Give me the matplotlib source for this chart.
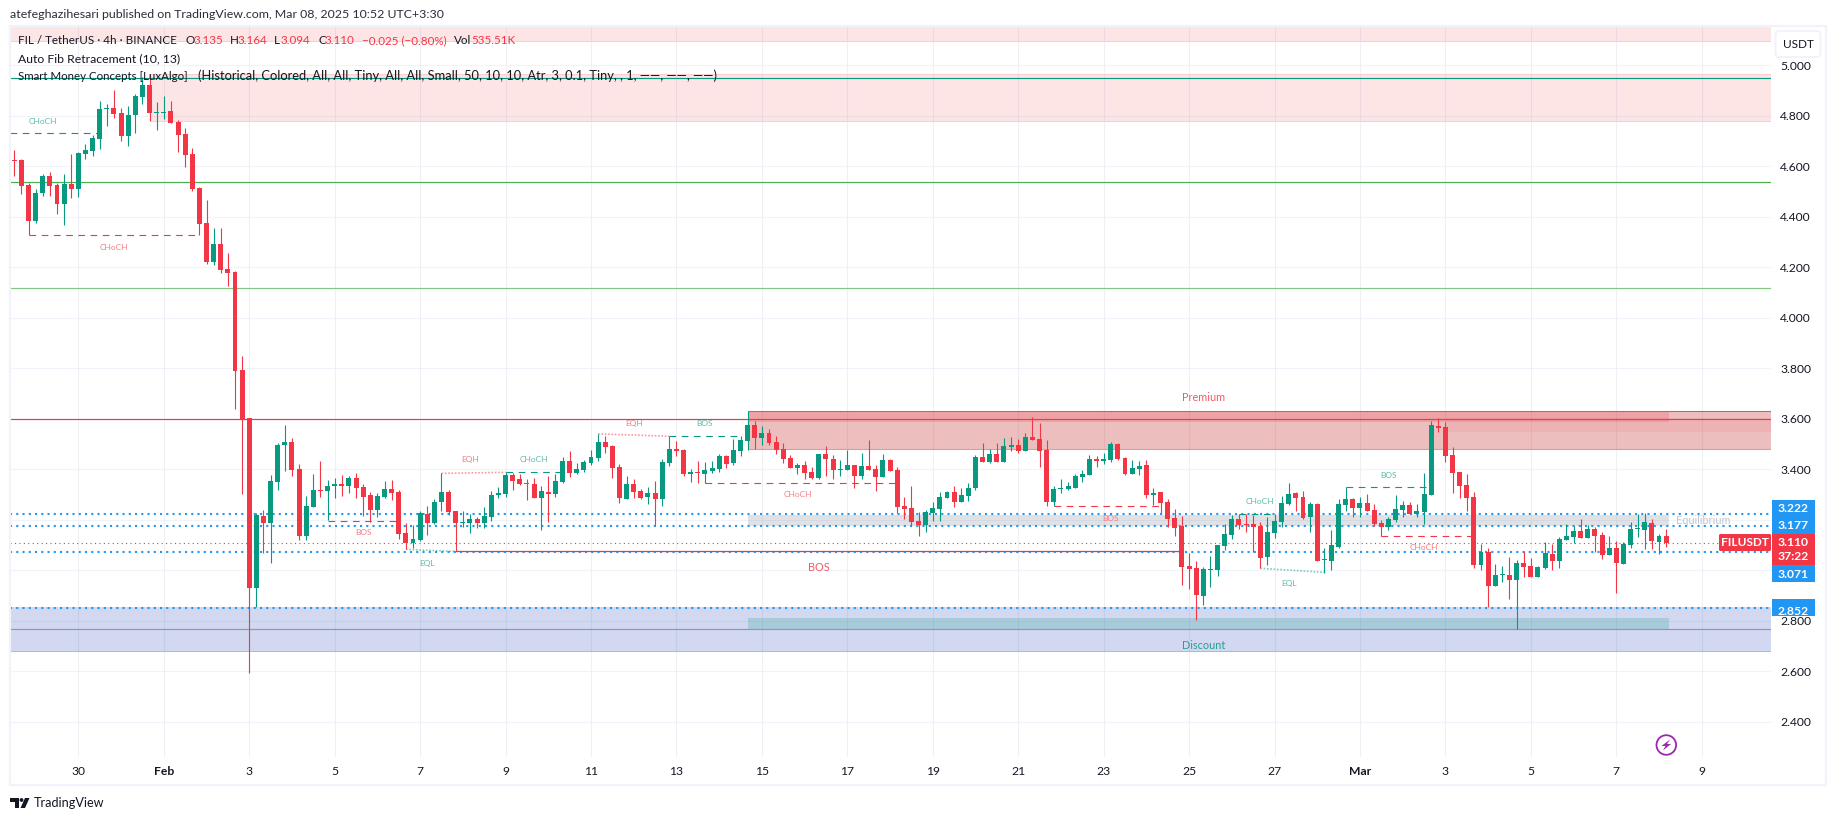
import matplotlib
matplotlib.use("Agg")
import matplotlib.pyplot as plt
from matplotlib.patches import Rectangle, FancyBboxPatch, Circle, Polygon

plt.rcParams['font.family'] = ['Lato', 'DejaVu Sans']

opens = [4.624,4.624,4.524,4.384,4.495,4.561,4.525,4.452,4.529,4.510,4.648,4.660,4.708,4.826,4.830,4.811,4.719,4.803,4.874,4.921,
4.811,4.811,4.818,4.775,4.727,4.648,4.514,4.375,4.221,4.292,4.193,4.181,3.793,3.605,2.931,3.217,3.187,3.349,3.496,3.508,
3.401,3.135,3.250,3.318,3.314,3.333,3.341,3.333,3.365,3.329,3.298,3.238,3.290,3.322,3.310,3.147,3.108,3.120,3.223,3.187,
3.270,3.310,3.234,3.187,3.187,3.203,3.187,3.211,3.298,3.302,3.377,3.361,3.345,3.341,3.286,3.310,3.302,3.349,3.432,3.385,
3.397,3.425,3.445,3.508,3.492,3.409,3.282,3.342,3.314,3.290,3.306,3.282,3.425,3.480,3.476,3.381,3.389,3.381,3.393,3.401,
3.453,3.425,3.472,3.512,3.575,3.524,3.544,3.508,3.480,3.445,3.405,3.417,3.389,3.366,3.461,3.441,3.397,3.397,3.417,3.373,
3.413,3.401,3.369,3.437,3.397,3.255,3.247,3.195,3.179,3.227,3.243,3.286,3.310,3.270,3.294,3.326,3.449,3.429,3.461,3.429,
3.488,3.496,3.473,3.528,3.520,3.477,3.271,3.322,3.322,3.326,3.370,3.378,3.441,3.433,3.437,3.500,3.445,3.382,3.401,3.417,
3.298,3.310,3.271,3.207,3.176,3.017,3.009,2.898,3.001,3.001,3.096,3.140,3.203,3.184,3.184,3.176,3.053,3.148,3.191,3.263,
3.306,3.290,3.211,3.263,3.041,3.037,3.092,3.259,3.283,3.247,3.267,3.239,3.187,3.172,3.199,3.239,3.259,3.223,3.231,3.298,
3.571,3.567,3.457,3.389,3.338,3.290,3.021,3.073,2.938,2.982,2.982,2.962,3.029,3.017,2.974,3.009,3.065,3.037,3.120,3.132,
3.156,3.128,3.164,3.140,3.061,3.088,3.025,3.100,3.164,3.160,3.187,3.112,3.135]
highs = [4.664,4.628,4.535,4.508,4.569,4.577,4.535,4.569,4.648,4.656,4.688,4.723,4.858,4.846,4.902,4.830,4.838,4.886,4.953,4.965,
4.854,4.878,4.859,4.783,4.751,4.672,4.518,4.466,4.355,4.355,4.256,4.185,3.848,3.605,3.225,3.238,3.377,3.504,3.575,3.524,
3.421,3.294,3.381,3.432,3.357,3.365,3.377,3.373,3.385,3.341,3.310,3.306,3.353,3.357,3.318,3.187,3.179,3.233,3.254,3.282,
3.385,3.318,3.234,3.234,3.223,3.211,3.250,3.314,3.329,3.388,3.384,3.381,3.361,3.365,3.333,3.373,3.381,3.448,3.472,3.423,
3.437,3.476,3.540,3.532,3.496,3.421,3.373,3.362,3.322,3.330,3.354,3.441,3.531,3.512,3.480,3.401,3.433,3.429,3.433,3.461,
3.457,3.520,3.532,3.631,3.591,3.571,3.560,3.532,3.504,3.457,3.425,3.433,3.409,3.461,3.492,3.457,3.437,3.476,3.417,3.465,
3.516,3.417,3.461,3.441,3.409,3.290,3.334,3.231,3.239,3.270,3.310,3.314,3.334,3.326,3.346,3.457,3.504,3.480,3.504,3.524,
3.528,3.520,3.544,3.607,3.583,3.516,3.334,3.362,3.350,3.381,3.397,3.457,3.453,3.465,3.508,3.504,3.449,3.437,3.433,3.437,
3.326,3.310,3.283,3.243,3.215,3.069,3.037,3.013,3.057,3.100,3.183,3.219,3.223,3.223,3.219,3.191,3.211,3.223,3.294,3.346,
3.310,3.314,3.271,3.267,3.088,3.160,3.283,3.329,3.287,3.290,3.302,3.263,3.199,3.211,3.298,3.275,3.271,3.263,3.385,3.591,
3.602,3.587,3.488,3.389,3.381,3.310,3.104,3.088,3.025,3.017,3.053,3.041,3.077,3.049,3.017,3.112,3.104,3.132,3.184,3.176,
3.203,3.180,3.172,3.152,3.136,3.116,3.112,3.191,3.223,3.227,3.203,3.144,3.164]
lows = [4.561,4.490,4.326,4.376,4.482,4.482,4.411,4.367,4.473,4.479,4.628,4.640,4.668,4.759,4.791,4.700,4.680,4.731,4.846,4.779,
4.743,4.787,4.771,4.656,4.597,4.503,4.327,4.213,4.209,4.176,4.125,3.638,3.302,2.594,2.853,3.069,3.028,3.318,3.393,3.373,
3.120,3.120,3.250,3.290,3.199,3.286,3.294,3.306,3.286,3.215,3.191,3.211,3.286,3.278,3.124,3.084,3.088,3.116,3.139,3.183,
3.234,3.219,3.076,3.171,3.147,3.167,3.167,3.195,3.286,3.290,3.318,3.337,3.278,3.286,3.159,3.191,3.290,3.345,3.369,3.381,
3.391,3.417,3.433,3.465,3.366,3.267,3.282,3.286,3.282,3.263,3.175,3.255,3.413,3.453,3.373,3.350,3.346,3.344,3.385,3.389,
3.405,3.417,3.453,3.476,3.480,3.496,3.496,3.461,3.425,3.405,3.381,3.362,3.362,3.363,3.373,3.362,3.373,3.397,3.326,3.362,
3.397,3.314,3.369,3.393,3.227,3.203,3.175,3.136,3.152,3.195,3.195,3.286,3.251,3.270,3.274,3.318,3.429,3.425,3.429,3.429,
3.473,3.465,3.473,3.516,3.409,3.255,3.255,3.306,3.318,3.326,3.350,3.378,3.409,3.421,3.429,3.437,3.378,3.382,3.378,3.286,
3.259,3.227,3.172,3.136,2.942,2.926,2.803,2.863,2.934,2.978,3.080,3.124,3.164,3.152,3.073,3.009,3.021,3.128,3.172,3.259,
3.235,3.203,3.152,3.037,2.991,3.001,3.088,3.235,3.211,3.211,3.235,3.176,3.136,3.160,3.191,3.211,3.223,3.211,3.184,3.298,
3.548,3.429,3.306,3.286,3.235,3.009,3.001,2.853,2.938,2.954,2.887,2.768,2.974,2.974,2.974,3.005,3.001,3.009,3.120,3.108,
3.128,3.128,3.073,3.045,3.061,2.910,3.025,3.088,3.132,3.084,3.084,3.065,3.094]
closes = [4.622,4.523,4.384,4.492,4.561,4.523,4.452,4.529,4.510,4.652,4.664,4.712,4.826,4.830,4.807,4.719,4.803,4.878,4.921,4.811,
4.813,4.813,4.771,4.723,4.644,4.510,4.371,4.221,4.292,4.189,4.177,3.789,3.601,2.931,3.219,3.187,3.353,3.496,3.508,3.397,
3.135,3.254,3.318,3.315,3.333,3.341,3.333,3.365,3.325,3.290,3.238,3.294,3.322,3.306,3.143,3.108,3.124,3.225,3.187,3.270,
3.310,3.230,3.187,3.191,3.203,3.187,3.215,3.298,3.306,3.377,3.353,3.341,3.341,3.286,3.314,3.302,3.353,3.432,3.385,3.401,
3.429,3.449,3.508,3.488,3.405,3.286,3.342,3.310,3.286,3.306,3.282,3.429,3.480,3.472,3.381,3.389,3.387,3.397,3.405,3.453,
3.421,3.476,3.516,3.575,3.524,3.544,3.504,3.476,3.441,3.405,3.417,3.385,3.366,3.461,3.441,3.397,3.401,3.417,3.373,3.413,
3.397,3.369,3.437,3.393,3.251,3.243,3.191,3.179,3.231,3.247,3.290,3.310,3.270,3.298,3.326,3.449,3.429,3.461,3.429,3.492,
3.496,3.473,3.528,3.516,3.473,3.271,3.322,3.326,3.334,3.374,3.382,3.441,3.433,3.441,3.500,3.441,3.382,3.405,3.413,3.298,
3.306,3.267,3.203,3.168,3.013,3.005,2.902,3.005,3.005,3.100,3.144,3.203,3.180,3.180,3.172,3.049,3.152,3.195,3.267,3.302,
3.286,3.207,3.263,3.037,3.045,3.100,3.263,3.283,3.247,3.267,3.235,3.184,3.172,3.203,3.243,3.259,3.223,3.235,3.302,3.575,
3.564,3.453,3.385,3.334,3.286,3.021,3.073,2.938,2.982,2.985,2.962,3.029,3.013,2.974,3.013,3.069,3.037,3.124,3.136,3.156,
3.128,3.164,3.136,3.061,3.088,3.029,3.104,3.164,3.168,3.191,3.116,3.136,3.110]

y_ticks = [5.0,4.8,4.6,4.4,4.2,4.0,3.8,3.6,3.4,2.8,2.6,2.4]
y_grid = [5.0,4.8,4.6,4.4,4.2,4.0,3.8,3.6,3.4,3.2,3.0,2.8,2.6,2.4]
x_tick_pos = [9,21,33,45,57,69,81,93,105,117,129,141,153,165,177,189,201,213,225,237]
x_tick_labels = ['30','Feb','3','5','7','9','11','13','15','17','19','21','23','25','27','Mar','3','5','7','9']
bold_ticks = ['Feb','Mar']

fib_levels = [4.951,4.536,4.117,3.601,2.766]
fib_colors = ['#089981','#4caf50','#81c784','#f23645','#8f94c0']
dotted_levels = [3.222,3.177,3.071,2.852]
dotted_labels = ['3.222','3.177','3.071','2.852']
last_price = 3.110

# (start bar, end bar, start price, end price)
dash_green = [(-0.6,12,4.730,4.730),(69,77,3.388,3.388),(92,102,3.531,3.531),(172,177,3.223,3.223),(187,199,3.329,3.329)]
dash_red = [(2,26,4.326,4.326),(44,54,3.197,3.197),(97,124,3.344,3.344),(146,161,3.253,3.253),(192,205,3.135,3.135)]
dot_red = [(60,69,3.384,3.388),(82,92,3.540,3.531)]
dot_green = [(55,62,3.083,3.075),(175,184,3.008,2.992)]
solid_red = [(62,164,3.075,3.075)]
tiny_labels = [('CHoCH',4,4.775,'g'),('CHoCH',14,4.278,'r'),('BOS',49,3.151,'r'),('EQL',58,3.028,'g'),
 ('EQH',64,3.437,'r'),('CHoCH',73,3.437,'g'),('EQH',87,3.583,'r'),('BOS',97,3.583,'g'),('CHoCH',110,3.302,'r'),
 ('BOS',154,3.207,'r'),('CHoCH',175,3.272,'g'),('EQL',179,2.947,'g'),('BOS',193,3.375,'g'),('CHoCH',198,3.091,'r')]

W, H = 1835, 821
AX_L, AX_R, AX_T, AX_B = 10, 1771, 27, 757
GREEN, RED = '#089981', '#f23645'
X_L, X_R = -0.6, 246.73
Y_T, Y_B = 5.151, 2.261

fig = plt.figure(figsize=(W/100, H/100), dpi=100, facecolor='white')
ax = fig.add_axes([AX_L/W, 1-AX_B/H, (AX_R-AX_L)/W, (AX_B-AX_T)/H])
ax.set_xlim(X_L, X_R)
ax.set_ylim(Y_B, Y_T)
for s in ax.spines.values():
    s.set_visible(False)

ax.yaxis.tick_right()
ax.set_yticks(y_ticks)
ax.set_yticklabels([f'{v:.3f}' for v in y_ticks])
ax.set_xticks(x_tick_pos)
ax.set_xticklabels(x_tick_labels)
ax.tick_params(axis='both', length=0, labelsize=8.7, colors='#131722')
ax.tick_params(axis='y', pad=6.5)
ax.tick_params(axis='x', pad=6.5)
for lab in ax.get_xticklabels():
    if lab.get_text() in bold_ticks:
        lab.set_fontweight('bold')
for v in y_grid:
    ax.axhline(v, color='#f0f3fa', lw=0.75, zorder=0.5)
for v in x_tick_pos:
    ax.axvline(v, color='#eef0f5', lw=0.75, zorder=0.5)

# zones
def band(x0, x1, p0, p1, color, alpha, z=1.0):
    ax.add_patch(Rectangle((x0, p0), x1-x0, p1-p0, facecolor=color, edgecolor='none', alpha=alpha, zorder=z))

ZONE_L, ZONE_R = 103.0, 232.4
band(X_L, X_R, 5.094, Y_T, RED, 0.13)
ax.hlines(5.094, X_L, X_R, color='#f8cfd2', lw=0.75, zorder=1.1)
band(19, X_R, 4.780, 4.965, RED, 0.13)
ax.hlines([4.780, 4.965], 19, X_R, color='#f8cfd2', lw=0.75, zorder=1.1)
band(X_L, X_R, 2.682, 2.853, '#1a3fb8', 0.2)
ax.hlines(2.682, X_L, X_R, color='#a8b8ec', lw=0.75, zorder=1.1)
band(ZONE_L, X_R, 3.479, 3.631, '#c62828', 0.3)
band(ZONE_L, ZONE_R, 3.589, 3.631, RED, 0.2, 1.01)
band(201, X_R, 3.549, 3.602, RED, 0.08, 1.02)
ax.hlines(3.631, ZONE_L, X_R, color='#e0555f', lw=0.75, zorder=1.1)
ax.hlines(3.479, ZONE_L, X_R, color='#dc9a9f', lw=0.75, zorder=1.1)
band(ZONE_L, ZONE_R, 3.176, 3.219, '#878b94', 0.25)
band(ZONE_L, ZONE_R, 2.766, 2.811, GREEN, 0.2, 1.01)

# levels
for v, c in zip(fib_levels, fib_colors):
    ax.axhline(v, color=c, lw=0.85, zorder=1.5)
for v in dotted_levels:
    ax.axhline(v, color='#2196f3', lw=1.5, linestyle=(0, (1, 2)), zorder=1.6)

# structure
def seg(items, color, ls, lw=0.8, alpha=1.0):
    for a, b, p, q in items:
        ax.plot([a, b], [p, q], color=color, lw=lw, linestyle=ls, alpha=alpha, zorder=1.8)
seg(dash_green, GREEN, (0, (6, 5)))
seg(dash_red, RED, (0, (6, 5)))
seg(dot_red, RED, (0, (1, 1)), 1.2, 0.5)
seg(dot_green, GREEN, (0, (1, 1)), 1.2, 0.5)
seg(solid_red, RED, '-', 0.9)

# candles
x_bars = list(range(len(closes)))
colors = [GREEN if c >= o else RED for o, c in zip(opens, closes)]
ax.vlines(x_bars, lows, highs, colors=colors, lw=0.8, zorder=3)
ax.bar(x_bars, [c-o for o, c in zip(opens, closes)], bottom=opens, width=0.7, color=colors, linewidth=0, zorder=3.1)
ax.axhline(last_price, color=RED, lw=0.8, linestyle=(0, (1, 3)), zorder=3.5)

for t, x, y, k in tiny_labels:
    ax.text(x, y, t, ha='center', va='center', fontsize=6.0, color='#5bbcaa' if k == 'g' else '#f77c86', zorder=4)
ax.text(113, 3.012, 'BOS', ha='center', va='center', fontsize=7.8, color='#f05a66', zorder=4)
ax.text(167, 3.686, 'Premium', ha='center', va='center', fontsize=7.8, color='#f05a66', zorder=4)
ax.text(167, 2.703, 'Discount', ha='center', va='center', fontsize=7.8, color='#26a08e', zorder=4)
ax.text(237.2, 3.197, 'Equilibrium', ha='center', va='center', fontsize=7.8, color='#c4c6cb', zorder=4)

# overlay in pixels
ov = fig.add_axes([0, 0, 1, 1], zorder=5)
ov.set_xlim(0, W); ov.set_ylim(H, 0); ov.axis('off'); ov.patch.set_alpha(0)
ov.add_patch(Rectangle((9.5, 26.5), 1816, 759, fill=False, edgecolor='#f0f3fa', lw=1.6))

DARK = '#131722'
ov.text(10, 15, 'atefeghazihesari published on TradingView.com, Mar 08, 2025 10:52 UTC+3:30', fontsize=8.9, color='#2a2e39', va='center')

legend_runs = [(18,'FIL / TetherUS · 4h · BINANCE',DARK),(185,'O',DARK),(194,'3.135',RED),(230,'H',DARK),(238,'3.164',RED),
               (274,'L',DARK),(281,'3.094',RED),(318,'C',DARK),(325,'3.110',RED),(362,'−0.025 (−0.80%)',RED),(454,'Vol',DARK),(471,'535.51K',RED)]
for x, s, c in legend_runs:
    ov.text(x, 41, s, fontsize=8.4, color=c, va='center')
ov.text(18, 59, 'Auto Fib Retracement (10, 13)', fontsize=8.8, color=DARK, va='center')
ov.text(18, 76, 'Smart Money Concepts [LuxAlgo]', fontsize=8.3, color=DARK, va='center')
ov.text(198, 76, '(Historical, Colored, All, All, Tiny, All, All, Small, 50, 10, 10, Atr, 3, 0.1, Tiny, , 1, ——, ——, ——)',
        fontsize=9.3, color=DARK, va='center')

# USDT button
ov.add_patch(Rectangle((1773, 28), 50, 33, facecolor='white', edgecolor='none'))
ov.add_patch(FancyBboxPatch((1775.5, 31), 45, 26, boxstyle='round,pad=0,rounding_size=4', facecolor='white', edgecolor='#f0f3fa', lw=1.4))
ov.text(1798, 44, 'USDT', fontsize=8.5, color=DARK, ha='center', va='center')

# price labels
BLUE = '#2196f3'
label_y = [508, 525.7, 574, 611.7]
box_spans = [(500, 517), (517, 535), (565, 582), (599, 616)]
for (a, b), yy, t in zip(box_spans, label_y, dotted_labels):
    ov.add_patch(Rectangle((1772, a), 43, b-a, facecolor=BLUE, edgecolor='none'))
    ov.text(1793.5, yy, t, fontsize=8.7, color='white', ha='center', va='center', fontweight='bold')
ov.add_patch(Rectangle((1772, 534), 43, 31, facecolor=RED, edgecolor='none'))
ov.text(1793.5, 542.7, f'{last_price:.3f}', fontsize=8.7, color='white', ha='center', va='center', fontweight='bold')
ov.text(1793.5, 556.7, '37:22', fontsize=8.7, color='white', ha='center', va='center', fontweight='bold')
ov.add_patch(FancyBboxPatch((1719, 534), 52, 17, boxstyle='round,pad=0,rounding_size=1.5', facecolor=RED, edgecolor='none'))
ov.text(1745, 542.5, 'FILUSDT', fontsize=8.5, color='white', ha='center', va='center', fontweight='bold')

# lightning icon
PURPLE = '#9c27b0'
ov.add_patch(Circle((1666.3, 745), 9.8, facecolor='white', edgecolor=PURPLE, lw=1.3))
ov.add_patch(Polygon([(1670, 739.5), (1661.5, 746), (1665.5, 746), (1663, 750.5), (1671, 744), (1667, 744)], closed=True, facecolor=PURPLE, edgecolor='none'))

# logo
ov.add_patch(Polygon([(10, 798), (19, 798), (19, 808), (15, 808), (15, 802), (10, 802)], closed=True, facecolor=DARK, edgecolor='none'))
ov.add_patch(Circle((21.5, 800), 1.9, facecolor=DARK, edgecolor='none'))
ov.add_patch(Polygon([(25, 798), (29.5, 798), (25, 808), (20.5, 808)], closed=True, facecolor=DARK, edgecolor='none'))
ov.text(34, 803, 'TradingView', fontsize=9.1, color=DARK, va='center')

fig.savefig('out.png', dpi=100, facecolor='white')
